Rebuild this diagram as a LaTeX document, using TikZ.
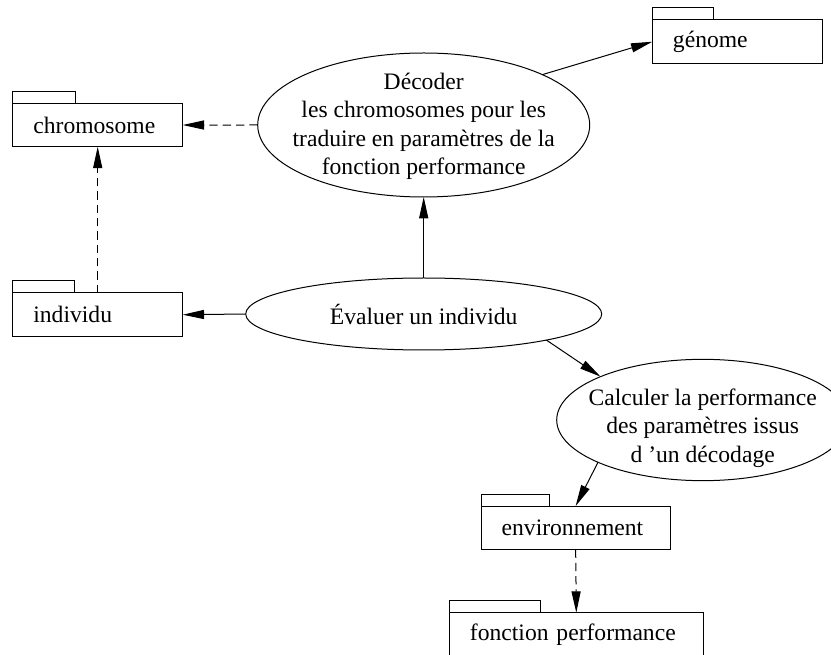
\documentclass[tikz,border=0pt]{standalone}
\usepackage{fontspec}
\setmainfont{Liberation Serif}
\usetikzlibrary{shapes.geometric,arrows.meta}
\begin{document}
\begin{tikzpicture}[x=0.75pt,y=-0.75pt,
  every node/.style={font=\fontsize{17.7pt}{21.2pt}\selectfont},
  pkg/.style={draw, rectangle, line width=0.75pt, inner xsep=15.5pt, inner ysep=0pt,
    minimum height=32.6pt, align=left, anchor=north west, outer sep=0pt},
  usecase/.style={draw, ellipse, line width=0.75pt, inner sep=0pt, outer sep=0pt},
  uctext/.style={align=center, inner sep=0pt},
  conn/.style={line width=0.75pt, -{Triangle[length=16pt,width=6.8pt]}},
  dep/.style={conn, dash pattern=on 6.25pt off 3.75pt},
  tabbox/.style={draw, line width=0.75pt}
]
\useasboundingbox (0,0) rectangle (831,655);

% packages
\node[pkg, text width=96.5pt] (chrom) at (12.7,103.3) {chromosome};
\node[pkg, text width=96.5pt] (indiv) at (12.7,293) {individu};
\node[pkg, text width=96.5pt] (genome) at (652.3,20) {génome};
\node[pkg, text width=111pt] (env) at (481,506) {environnement};
\node[pkg, text width=159.5pt] (fonc) at (449.3,612.7) {fonction performance};

\draw[tabbox] (chrom.north west) rectangle +(47.2pt,9pt);
\draw[tabbox] (indiv.north west) rectangle +(46pt,9pt);
\draw[tabbox] (genome.north west) rectangle +(45.8pt,9pt);
\draw[tabbox] (env.north west) rectangle +(51pt,9pt);
\draw[tabbox] (fonc.north west) rectangle +(68.5pt,9pt);

% use cases
\node[usecase, minimum width=249pt, minimum height=108pt,
  label={[uctext, yshift=-1pt]center:{Décoder\\les chromosomes pour les\\traduire en paramètres de la\\fonction performance}}]
  (dec) at (423.7,125) {};
\node[usecase, minimum width=267pt, minimum height=54pt,
  label={[uctext]center:{Évaluer un individu}}]
  (eval) at (423.7,314) {};
\node[usecase, minimum width=219pt, minimum height=91pt,
  label={[uctext, yshift=-6pt]center:{Calculer la performance\\des paramètres issus\\d ’un décodage}}]
  (calc) at (702.7,420) {};

% connectors
\draw[conn] (dec.23.4) -- (genome.west);
\draw[dep] (dec.west) -- (chrom.east);
\draw[conn] (eval.north) -- (dec.south);
\draw[conn] (eval.west) -- (indiv.east);
\draw[dep] (indiv.north) -- (chrom.south);
\draw[conn] (eval.348.4) -- (calc.157);
\draw[conn] (calc.202.9) -- (env.north);
\draw[dep] (env.south) -- (fonc.north);
\end{tikzpicture}
\end{document}
